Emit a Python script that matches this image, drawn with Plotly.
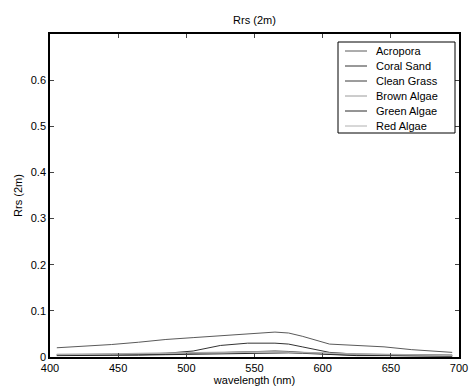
import plotly.graph_objects as go

wavelength = [405, 425, 445, 465, 485, 505, 525, 545, 565, 575, 585, 605, 625, 645, 665, 685, 695]
series_names = ["Acropora", "Coral Sand", "Clean Grass", "Brown Algae", "Green Algae", "Red Algae"]
acropora = [0.020, 0.023, 0.027, 0.032, 0.038, 0.042, 0.046, 0.050, 0.054, 0.052, 0.045, 0.028, 0.025, 0.022, 0.016, 0.011, 0.010]
coral_sand = [0.005, 0.005, 0.005, 0.006, 0.008, 0.013, 0.025, 0.030, 0.030, 0.028, 0.022, 0.010, 0.006, 0.005, 0.004, 0.004, 0.004]
clean_grass = [0.004, 0.004, 0.004, 0.005, 0.006, 0.008, 0.010, 0.012, 0.013, 0.012, 0.010, 0.006, 0.004, 0.003, 0.003, 0.002, 0.002]
brown_algae = [0.006, 0.006, 0.007, 0.008, 0.009, 0.010, 0.011, 0.012, 0.012, 0.011, 0.010, 0.008, 0.007, 0.006, 0.005, 0.004, 0.004]
green_algae = [0.003, 0.003, 0.003, 0.004, 0.005, 0.006, 0.008, 0.009, 0.010, 0.009, 0.008, 0.005, 0.003, 0.003, 0.002, 0.002, 0.002]
red_algae = [0.005, 0.005, 0.006, 0.007, 0.008, 0.009, 0.010, 0.011, 0.011, 0.010, 0.009, 0.007, 0.006, 0.005, 0.004, 0.003, 0.003]
x_ticks = [400, 450, 500, 550, 600, 650, 700]
y_ticks = [0, 0.1, 0.2, 0.3, 0.4, 0.5, 0.6]
y_ticktext = ["0", "0.1", "0.2", "0.3", "0.4", "0.5", "0.6"]

values = [acropora, coral_sand, clean_grass, brown_algae, green_algae, red_algae]
colors = ["#5a5a5a", "#333333", "#3a3a3a", "#9a9a9a", "#2a2a2a", "#b0b0b0"]

W, H = 469, 389
ML, MT = 50, 34
PW, PH = 409, 323
MR, MB = W - ML - PW, H - MT - PH


def px_x(px):
    return (px - ML) / PW


def px_y(py):
    return (MT + PH - py) / PH


fig = go.Figure()
for name, vals, c in zip(series_names, values, colors):
    fig.add_trace(go.Scatter(x=wavelength, y=vals, mode="lines", name=name,
                             line=dict(color=c, width=1), showlegend=False))

font = dict(family="Liberation Sans, Arial, sans-serif", size=11, color="black")

# custom legend (MATLAB style compact box)
shapes = [dict(type="rect", xref="paper", yref="paper",
               x0=px_x(338), x1=px_x(455), y0=px_y(133), y1=px_y(42),
               line=dict(color="black", width=1), fillcolor="white", layer="above")]
annotations = []
for i, (name, c) in enumerate(zip(series_names, colors)):
    yc = 51 + i * 15
    shapes.append(dict(type="line", xref="paper", yref="paper",
                       x0=px_x(345), x1=px_x(367), y0=px_y(yc), y1=px_y(yc),
                       line=dict(color=c, width=1), layer="above"))
    annotations.append(dict(text=name, xref="paper", yref="paper",
                            x=px_x(374), y=px_y(yc), xanchor="left", yanchor="middle",
                            showarrow=False, font=font))

fig.update_layout(
    width=W, height=H,
    margin=dict(l=ML, r=MR, t=MT, b=MB),
    paper_bgcolor="white", plot_bgcolor="white",
    font=font,
    showlegend=False,
    title=dict(text="Rrs (2m)", x=(PW / 2 + ML) / W, xanchor="center", y=1 - 20 / H,
               yanchor="middle", font=dict(size=11)),
    xaxis=dict(range=[400, 700], tickvals=x_ticks, ticks="inside", ticklen=4,
               showline=True, linecolor="black", linewidth=1.5, mirror="ticks",
               showgrid=False, zeroline=False, automargin=False,
               title=dict(text="wavelength (nm)", standoff=2, font=dict(size=11))),
    yaxis=dict(range=[0, 0.7], tickvals=y_ticks, ticktext=y_ticktext,
               ticks="inside", ticklen=4,
               showline=True, linecolor="black", linewidth=1.5, mirror="ticks",
               showgrid=False, zeroline=False, automargin=False,
               title=dict(text="Rrs (2m)", standoff=6, font=dict(size=11))),
    shapes=shapes,
    annotations=annotations,
)

fig.write_html("out.html", config={"displayModeBar": False},
               post_script="document.body.style.margin='0';document.body.style.overflow='hidden';")
